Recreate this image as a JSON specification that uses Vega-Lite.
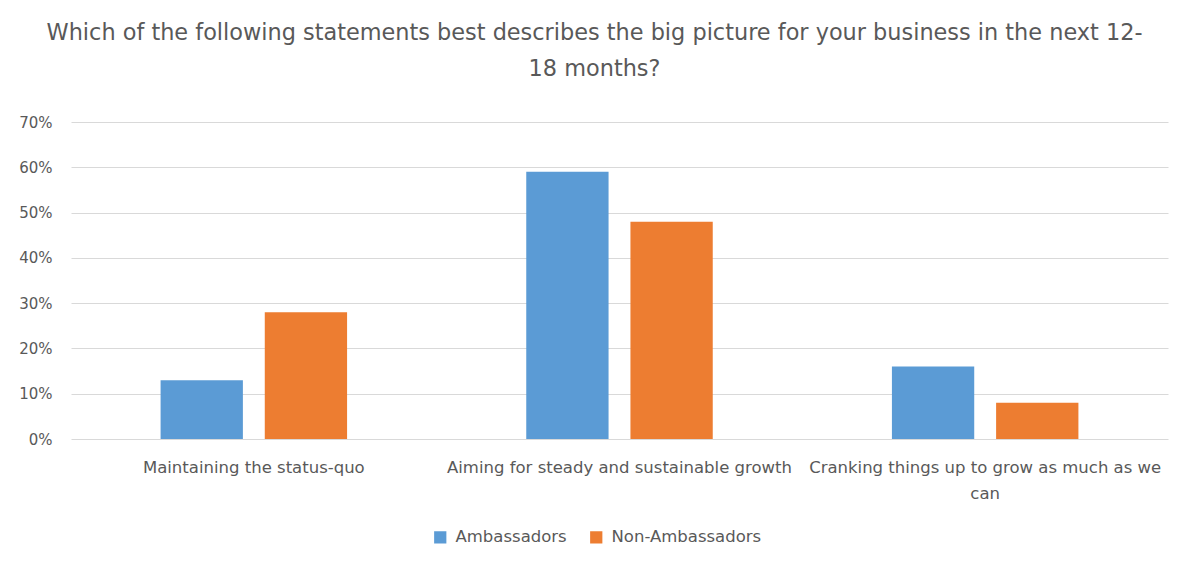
{
  "$schema": "https://vega.github.io/schema/vega-lite/v6.json",
  "autosize": {"type": "none"},
  "width": 1097,
  "height": 317,
  "padding": {"left": 71, "top": 122, "right": 20, "bottom": 124},
  "background": "white",
  "title": {
    "text": ["Which of the following statements best describes the big picture for your business in the next 12-", "18 months?"],
    "font": "DejaVu Sans",
    "fontSize": 22.4,
    "fontWeight": "normal",
    "color": "#595959",
    "lineHeight": 36,
    "anchor": "middle",
    "dx": -25,
    "offset": 35
  },
  "data": {
    "values": [
      {"statement": "Maintaining the status-quo", "group": "Ambassadors", "share": 0.13},
      {"statement": "Maintaining the status-quo", "group": "Non-Ambassadors", "share": 0.28},
      {"statement": "Aiming for steady and sustainable growth", "group": "Ambassadors", "share": 0.59},
      {"statement": "Aiming for steady and sustainable growth", "group": "Non-Ambassadors", "share": 0.48},
      {"statement": "Cranking things up to grow as much as we can", "group": "Ambassadors", "share": 0.16},
      {"statement": "Cranking things up to grow as much as we can", "group": "Non-Ambassadors", "share": 0.08}
    ]
  },
  "mark": {"type": "bar"},
  "encoding": {
    "x": {
      "field": "statement",
      "type": "nominal",
      "sort": null,
      "scale": {"paddingInner": 0.49, "paddingOuter": 0.245},
      "axis": {
        "title": null,
        "labelAngle": 0,
        "labelFont": "DejaVu Sans",
        "labelFontSize": 16.5,
        "labelColor": "#595959",
        "labelPadding": 20,
        "labelLimit": 400,
        "labelLineHeight": 26,
        "labelExpr": "datum.value == 'Cranking things up to grow as much as we can' ? ['Cranking things up to grow as much as we', 'can'] : datum.value",
        "ticks": false,
        "domain": false,
        "grid": false
      }
    },
    "xOffset": {
      "field": "group",
      "type": "nominal",
      "scale": {"paddingInner": 0.21, "paddingOuter": 0}
    },
    "y": {
      "field": "share",
      "type": "quantitative",
      "scale": {"domain": [0, 0.7], "nice": false},
      "axis": {
        "title": null,
        "format": ".0%",
        "values": [0, 0.1, 0.2, 0.3, 0.4, 0.5, 0.6, 0.7],
        "labelFont": "DejaVu Sans",
        "labelFontSize": 15,
        "labelColor": "#595959",
        "labelPadding": 19,
        "ticks": false,
        "domain": false,
        "grid": true,
        "gridColor": "#d9d9d9",
        "gridWidth": 1
      }
    },
    "color": {
      "field": "group",
      "type": "nominal",
      "scale": {"domain": ["Ambassadors", "Non-Ambassadors"], "range": ["#5b9bd5", "#ed7d31"]},
      "legend": {
        "title": null,
        "orient": "none",
        "legendX": 361,
        "legendY": 407,
        "direction": "horizontal",
        "symbolType": "square",
        "symbolSize": 150,
        "symbolStrokeWidth": 0,
        "labelFont": "DejaVu Sans",
        "labelFontSize": 16.5,
        "labelColor": "#595959",
        "labelOffset": 7,
        "columnPadding": 21
      }
    }
  },
  "config": {
    "view": {"stroke": null}
  }
}
